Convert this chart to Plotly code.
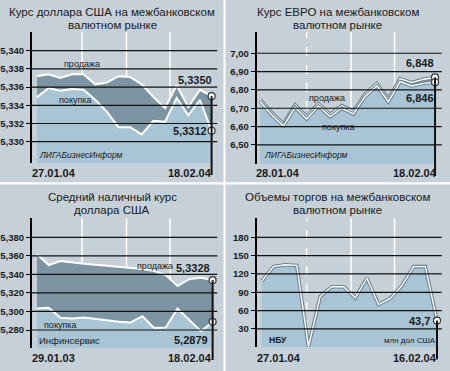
import plotly.graph_objects as go

# ---------------- data ----------------
# Panel 1: USD interbank rate
usd_dates = ["27.01.04", "18.02.04"]
usd_sell = [5.3372, 5.3374, 5.3370, 5.3374, 5.3374, 5.3363, 5.3365, 5.3372,
            5.3371, 5.3363, 5.3349, 5.3337, 5.3362, 5.3338, 5.3357, 5.3350]
usd_buy = [5.3349, 5.3359, 5.3356, 5.3358, 5.3357, 5.3346, 5.3333, 5.3316,
           5.3316, 5.3308, 5.3323, 5.3322, 5.3348, 5.3329, 5.3346, 5.3312]
usd_ticks = [5.330, 5.332, 5.334, 5.336, 5.338, 5.340]
usd_ticktext = ["5,330", "5,332", "5,334", "5,336", "5,338", "5,340"]

# Panel 2: EUR interbank rate
eur_dates = ["28.01.04", "18.02.04"]
eur_sell = [6.750, 6.676, 6.615, 6.718, 6.655, 6.726, 6.667, 6.714,
            6.682, 6.777, 6.836, 6.750, 6.862, 6.840, 6.858, 6.868]
eur_buy = [6.736, 6.663, 6.603, 6.705, 6.642, 6.712, 6.654, 6.700,
           6.669, 6.763, 6.822, 6.736, 6.845, 6.822, 6.836, 6.842]
eur_ticks = [6.50, 6.60, 6.70, 6.80, 6.90, 7.00]
eur_ticktext = ["6,50", "6,60", "6,70", "6,80", "6,90", "7,00"]

# Panel 3: average cash USD rate
cash_dates = ["29.01.03", "18.02.04"]
cash_sell = [5.3616, 5.3501, 5.3544, 5.3526, 5.3515, 5.3504, 5.3493, 5.3482,
             5.3471, 5.3457, 5.3436, 5.3392, 5.3274, 5.3349, 5.3363, 5.3338]
cash_buy = [5.3032, 5.3039, 5.2931, 5.2924, 5.2935, 5.2917, 5.2903, 5.2888,
            5.2881, 5.2949, 5.2823, 5.2827, 5.3032, 5.2906, 5.2787, 5.2888]
cash_ticks = [5.280, 5.300, 5.320, 5.340, 5.360, 5.380]
cash_ticktext = ["5,280", "5,300", "5,320", "5,340", "5,360", "5,380"]

# Panel 4: trading volumes
vol_dates = ["27.01.04", "16.02.04"]
vol_values = [108, 132, 135, 134, 1, 83, 99, 99, 81, 113, 70, 80, 101, 132, 132, 43.7]
vol_ticks = [30, 60, 90, 120, 150, 180]
vol_ticktext = ["30", "60", "90", "120", "150", "180"]

# ---------------- style ----------------
W, H = 450, 371
FONT = "Liberation Sans, Arial, Helvetica, sans-serif"
PANEL_BG = "#c5d0d8"
PLOT_BG = "#e4e4e4"
LIGHT = "#a9c5d5"
DARK = "#7d95a3"
OUTLINE = "#6e8593"
TXT = "#1a1a1a"


def px_x(x):
    return x / W


def px_y(y):
    return 1 - y / H


# plot-area pixel boxes (left, top, right, bottom)
boxes = {
    1: (32, 32, 217.3, 163),
    2: (256.7, 32, 441.7, 164),
    3: (32, 218, 217.3, 348),
    4: (256.7, 218, 441.7, 347.3),
}
yranges = {1: [5.32766, 5.34205], 2: [6.396, 7.116], 3: [5.2606, 5.4008], 4: [0, 211.6]}
xranges = {1: [-0.43, 15.49], 2: [-0.29, 15.57], 3: [-0.43, 15.4], 4: [-0.43, 15.4]}
ticks = {1: (usd_ticks, usd_ticktext), 2: (eur_ticks, eur_ticktext),
         3: (cash_ticks, cash_ticktext), 4: (vol_ticks, vol_ticktext)}

fig = go.Figure()
layout = dict(width=W, height=H, autosize=False, margin=dict(l=0, r=0, t=0, b=0),
              paper_bgcolor="white", plot_bgcolor=PLOT_BG, showlegend=False,
              font=dict(family=FONT, color=TXT))
shapes = []
annotations = []

# panel backgrounds
for (x0, y0, x1, y1) in [(0, 0, 223.5, 182.3), (225.5, 0, 450, 182.3),
                         (0, 184.5, 223.5, 371), (225.5, 184.5, 450, 371)]:
    shapes.append(dict(type="rect", xref="paper", yref="paper",
                       x0=px_x(x0), x1=px_x(x1), y0=px_y(y1), y1=px_y(y0),
                       fillcolor=PANEL_BG, line=dict(width=0), layer="below"))

for k in range(1, 5):
    l, t, r, b = boxes[k]
    sfx = "" if k == 1 else str(k)
    tv, tt = ticks[k]
    layout["xaxis" + sfx] = dict(domain=[px_x(l), px_x(r)], range=xranges[k],
                                 anchor="y" + sfx, visible=False, fixedrange=True)
    layout["yaxis" + sfx] = dict(domain=[px_y(b), px_y(t)], range=yranges[k],
                                 anchor="x" + sfx, tickvals=tv, ticktext=tt,
                                 ticks="outside", ticklen=4, tickwidth=1.3,
                                 tickcolor="black", showline=True, linecolor="black",
                                 linewidth=2, showgrid=False, zeroline=False,
                                 fixedrange=True,
                                 tickfont=dict(family=FONT, size=9.5, color=TXT, weight=700))
    xr = "x" + sfx
    yr = "y" + sfx
    # white vertical grid lines (behind fills)
    for i, fx in enumerate([0.27, 0.51, 0.745]):
        dash = "dash" if (i == 0 and k in (2, 4)) else "solid"
        shapes.append(dict(type="line", xref=xr + " domain", yref=yr + " domain",
                           x0=fx, x1=fx, y0=0, y1=1, layer="below",
                           line=dict(color="white", width=1.5, dash=dash)))
    # black horizontal grid lines above fills
    for v in tv:
        shapes.append(dict(type="line", xref=xr + " domain", yref=yr,
                           x0=0, x1=1, y0=v, y1=v, layer="above",
                           line=dict(color="#111111", width=1.2)))


def end_line(k, top_value):
    l, t, r, b = boxes[k]
    sfx = "" if k == 1 else str(k)
    xr0, xr1 = xranges[k]
    yr0, yr1 = yranges[k]
    n = 16
    xd = (n - 1 - xr0) / (xr1 - xr0)
    yd = (top_value - yr0) / (yr1 - yr0)
    ext = 12 / (b - t)
    shapes.append(dict(type="line", xref="x" + sfx + " domain", yref="y" + sfx + " domain",
                       x0=xd, x1=xd, y0=yd, y1=-ext, layer="above",
                       line=dict(color="#111111", width=2)))


def two_series(k, sell, buy, outlined):
    sfx = "" if k == 1 else str(k)
    x = list(range(len(sell)))
    fig.add_trace(go.Scatter(x=x, y=buy, mode="lines", fill="tozeroy", fillcolor=LIGHT,
                             line=dict(width=0), xaxis="x" + sfx, yaxis="y" + sfx,
                             hoverinfo="skip"))
    fig.add_trace(go.Scatter(x=x, y=sell, mode="lines", fill="tonexty", fillcolor=DARK,
                             line=dict(width=0), xaxis="x" + sfx, yaxis="y" + sfx,
                             hoverinfo="skip"))
    for s in (sell, buy):
        if outlined:
            fig.add_trace(go.Scatter(x=x, y=s, mode="lines",
                                     line=dict(color=OUTLINE, width=3.6),
                                     xaxis="x" + sfx, yaxis="y" + sfx, hoverinfo="skip"))
            fig.add_trace(go.Scatter(x=x, y=s, mode="lines",
                                     line=dict(color="white", width=1.4),
                                     xaxis="x" + sfx, yaxis="y" + sfx, hoverinfo="skip"))
        else:
            fig.add_trace(go.Scatter(x=x, y=s, mode="lines",
                                     line=dict(color="white", width=2),
                                     xaxis="x" + sfx, yaxis="y" + sfx, hoverinfo="skip"))
    end_line(k, sell[-1])
    fig.add_trace(go.Scatter(x=[x[-1], x[-1]], y=[sell[-1], buy[-1]], mode="markers",
                             marker=dict(size=7, color="white",
                                         line=dict(color="#333333", width=1.2)),
                             cliponaxis=False, xaxis="x" + sfx, yaxis="y" + sfx,
                             hoverinfo="skip"))


two_series(1, usd_sell, usd_buy, False)
two_series(2, eur_sell, eur_buy, True)
two_series(3, cash_sell, cash_buy, False)

# panel 4 volumes
xv = list(range(len(vol_values)))
fig.add_trace(go.Scatter(x=xv, y=vol_values, mode="lines", fill="tozeroy", fillcolor=LIGHT,
                         line=dict(color=OUTLINE, width=3.6), xaxis="x4", yaxis="y4",
                         hoverinfo="skip"))
fig.add_trace(go.Scatter(x=xv, y=vol_values, mode="lines", line=dict(color="white", width=1.4),
                         xaxis="x4", yaxis="y4", hoverinfo="skip"))
end_line(4, vol_values[-1])
fig.add_trace(go.Scatter(x=[xv[-1]], y=[vol_values[-1]], mode="markers",
                         marker=dict(size=7, color="white", line=dict(color="#333333", width=1.2)),
                         cliponaxis=False, xaxis="x4", yaxis="y4", hoverinfo="skip"))


def txt(text, x, y, size, anchor="center", bold=False, italic=False):
    annotations.append(dict(text=text, xref="paper", yref="paper", x=px_x(x), y=px_y(y),
                            xanchor=anchor, yanchor="middle", showarrow=False,
                            font=dict(family=FONT, size=size, color=TXT,
                                      weight=700 if bold else 400,
                                      style="italic" if italic else "normal")))


def fmt(v, d):
    return f"{v:.{d}f}".replace(".", ",")


# titles (two separate lines, 13px apart)
TS = 11.5
txt("Курс доллара США на межбанковском", 112, 12, TS)
txt("валютном рынке", 112, 25, TS)
txt("Курс ЕВРО на межбанковском", 337.5, 12, TS)
txt("валютном рынке", 337.5, 25, TS)
txt("Средний наличный курс", 112, 197, TS)
txt("доллара США", 112, 210, TS)
txt("Объемы торгов на межбанковском", 337.5, 197, TS)
txt("валютном рынке", 337.5, 210, TS)

# panel 1
txt("продажа", 62, 64, 9, "left")
txt("покупка", 57, 100, 9, "left")
txt("ЛИГАБизнесИнформ", 37, 155, 8.5, "left", italic=True)
txt(fmt(usd_sell[-1], 4), 213.5, 80, 11, "right", bold=True)
txt(fmt(usd_buy[-1], 4), 208.5, 130.5, 11, "right", bold=True)
txt(usd_dates[0], 29.5, 173, 11, "left", bold=True)
txt(usd_dates[1], 213.8, 173, 11, "right", bold=True)

# panel 2
txt("продажа", 307, 98, 9, "left")
txt("покупка", 320, 127, 9, "left")
txt("ЛИГАБизнесИнформ", 262, 155, 8.5, "left", italic=True)
txt("6,848", 435.5, 63, 11, "right", bold=True)
txt("6,846", 435.5, 98, 11, "right", bold=True)
txt(eur_dates[0], 254, 173, 11, "left", bold=True)
txt(eur_dates[1], 438.5, 173, 11, "right", bold=True)

# panel 3
txt("продажа", 135, 266, 9, "left")
txt("покупка", 42, 325, 9, "left")
txt("Инфинсервис", 37, 340, 9.5, "left")
txt("5,3328", 211.7, 267.7, 11, "right", bold=True)
txt("5,2879", 210, 339.7, 11, "right", bold=True)
txt(cash_dates[0], 29.5, 358, 11, "left", bold=True)
txt(cash_dates[1], 213.8, 358, 11, "right", bold=True)

# panel 4
txt("НБУ", 266.5, 340, 8.5, "left", bold=True)
txt("млн дол США", 381.5, 340, 8, "left")
txt(fmt(vol_values[-1], 1), 431.5, 321, 11, "right", bold=True)
txt(vol_dates[0], 254.5, 358, 11, "left", bold=True)
txt(vol_dates[1], 438.5, 358, 11, "right", bold=True)

layout["shapes"] = shapes
layout["annotations"] = annotations
fig.update_layout(**layout)
fig.write_html("out.html", config={"displayModeBar": False},
               post_script="document.body.style.margin='0';")
